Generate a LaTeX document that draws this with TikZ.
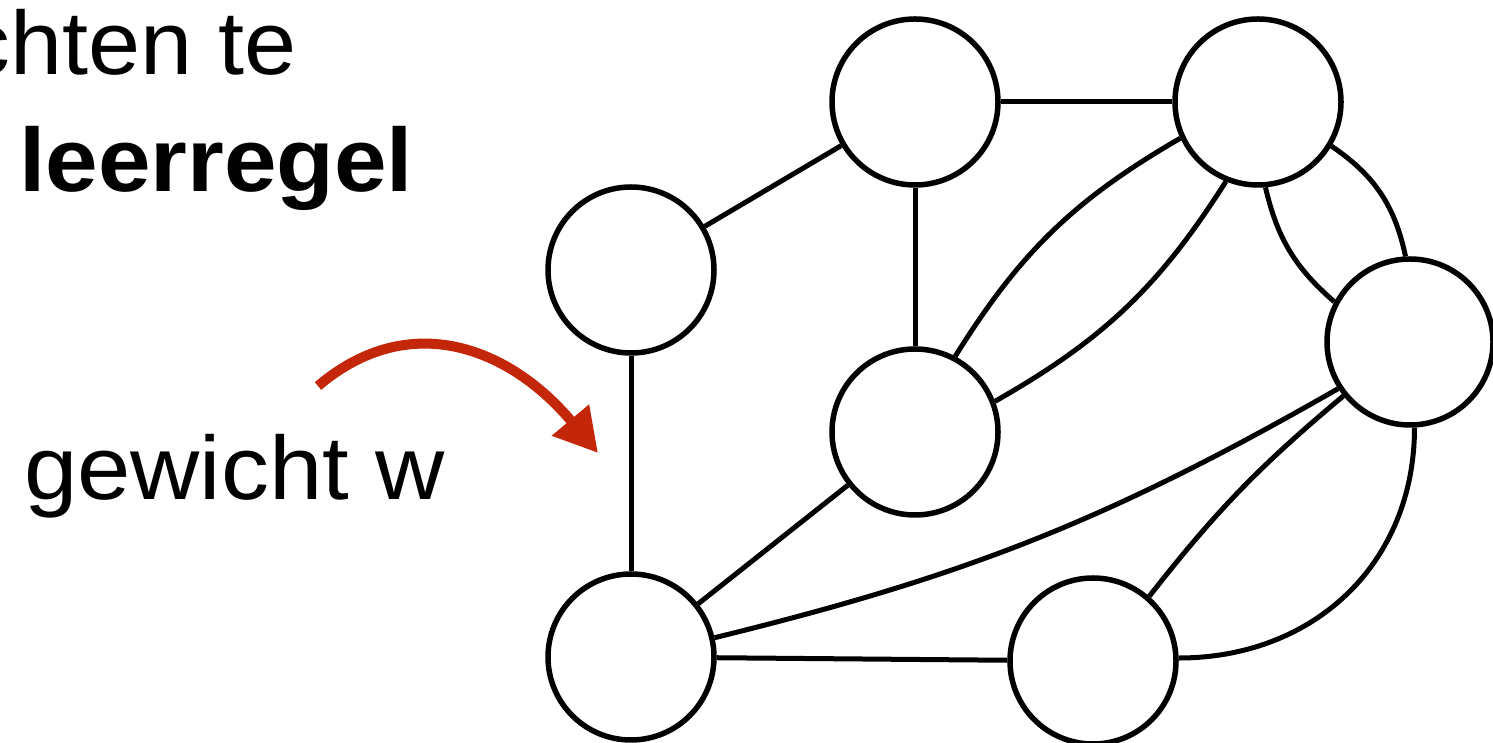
\documentclass[tikz,border=0pt]{standalone}
\usepackage{fontspec}
\setmainfont{Liberation Sans}
\usetikzlibrary{arrows.meta}
\definecolor{arrowred}{RGB}{196,38,10}
\tikzset{
  vertex/.style={circle, draw=black, line width=5.5pt, minimum size=166pt, inner sep=0pt, fill=white},
  edge/.style={draw=black, line width=5pt},
  bigtext/.style={inner sep=0pt, font=\fontsize{90pt}{100pt}\selectfont},
  pointer/.style={draw=arrowred, line width=10pt, -{Triangle[length=43pt,width=46pt]}}
}
\begin{document}
\begin{tikzpicture}[x=1pt,y=1pt]
\useasboundingbox (0,0) rectangle (1493,743);
\clip (0,0) rectangle (1493,743);
% texts
\node[bigtext, anchor=base east] (t1) at (297,668) {\scalebox{1.04}[1]{chten te}};
\node[bigtext, anchor=base west, font=\fontsize{90pt}{100pt}\selectfont\bfseries] (t2) at (19,551) {\scalebox{1.05}[1]{leerregel}};
\node[bigtext, anchor=base west] (t3) at (24,243) {\scalebox{1.065}[1]{gewicht w}};
% vertices
\coordinate (A0) at (631,473);
\coordinate (B0) at (915,641);
\coordinate (C0) at (1258,641);
\coordinate (D0) at (915,311);
\coordinate (E0) at (1410,401);
\coordinate (F0) at (631,86);
\coordinate (G0) at (1093,82);
\node[vertex] (A) at (A0) {};
\node[vertex] (B) at (B0) {};
\node[vertex] (C) at (C0) {};
\node[vertex] (D) at (D0) {};
\node[vertex] (E) at (E0) {};
\node[vertex] (F) at (F0) {};
\node[vertex] (G) at (G0) {};
% edges
\draw[edge] (A) -- (B);
\draw[edge] (B) -- (C);
\draw[edge] (B) -- (D);
\draw[edge] (A) -- (F);
\draw[edge] (D) -- (F);
\draw[edge] (F) -- (G);
\draw[edge] (C.205) to[bend right=14] (D.62);
\draw[edge] (C.248) to[bend left=14] (D.21);
\draw[edge] (C.275) to[bend right=18] (E.152);
\draw[edge] (C.329) to[bend left=22] (E.93);
\draw[edge] (E.213) to[bend left=8] (F.13);
\draw[edge] (E.219) to[bend right=6] (G.49);
\draw[edge] (E.273) to[out=-90,in=0,looseness=1.05] (G.2);
% red arrow
\coordinate (p0) at (318,357);
\coordinate (p1) at (598,290);
\draw[pointer] (p0) .. controls (410,435) and (510,395) .. (p1);
\end{tikzpicture}
\end{document}
